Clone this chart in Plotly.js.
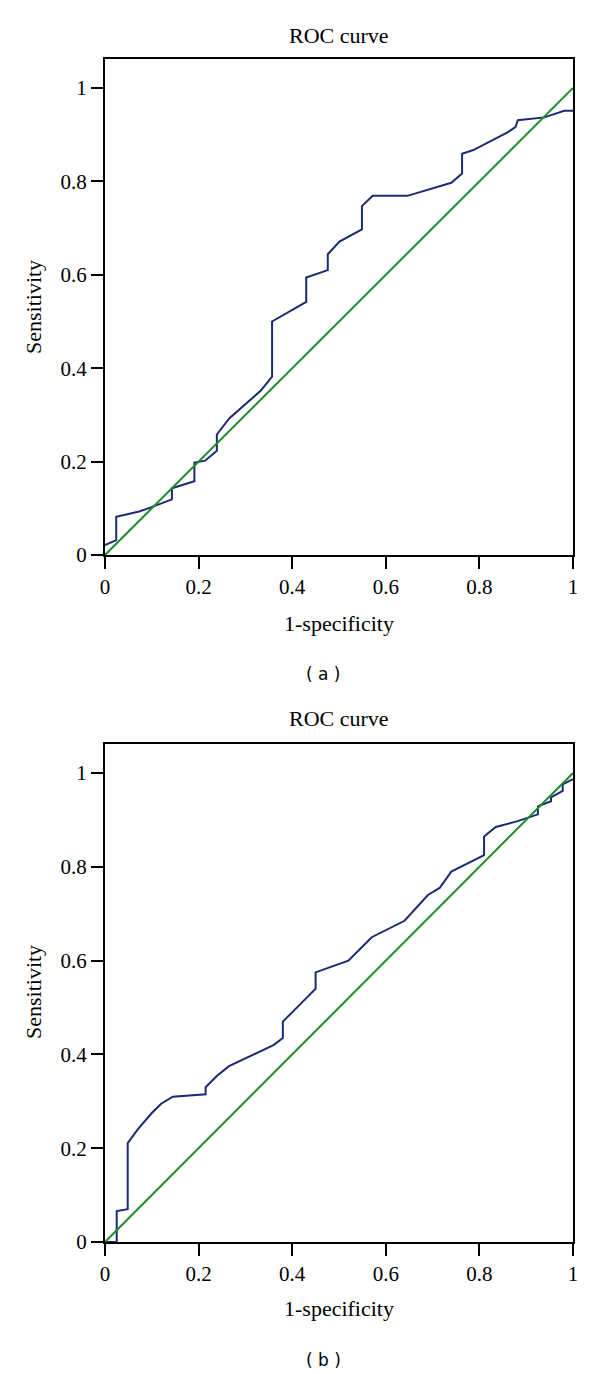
<!DOCTYPE html>
<html>
<head>
<meta charset="utf-8">
<script src="https://cdn.plot.ly/plotly-3.0.1.min.js"></script>
<style>html,body{margin:0;padding:0;background:#fff;}#chart{width:600px;height:1374px;}</style>
</head>
<body>
<div id="chart"></div>
<script>
// ROC curve (a)
var aX = [0, 0.024, 0.024, 0.073, 0.101, 0.143, 0.143, 0.191, 0.191, 0.214, 0.239, 0.239, 0.266, 0.333, 0.357, 0.357, 0.430, 0.430, 0.476, 0.476, 0.501, 0.549, 0.549, 0.572, 0.646, 0.740, 0.763, 0.763, 0.787, 0.860, 0.877, 0.882, 0.939, 0.981, 1.0];
var aY = [0.021, 0.032, 0.082, 0.093, 0.103, 0.119, 0.143, 0.158, 0.198, 0.202, 0.223, 0.258, 0.293, 0.352, 0.382, 0.500, 0.542, 0.594, 0.610, 0.644, 0.671, 0.697, 0.747, 0.769, 0.769, 0.797, 0.817, 0.859, 0.867, 0.905, 0.916, 0.931, 0.937, 0.951, 0.951];
// ROC curve (b)
var bX = [0, 0.025, 0.025, 0.0485, 0.0485, 0.07, 0.10, 0.12, 0.145, 0.215, 0.215, 0.24, 0.265, 0.36, 0.38, 0.38, 0.42, 0.45, 0.45, 0.52, 0.545, 0.57, 0.64, 0.69, 0.715, 0.74, 0.81, 0.81, 0.835, 0.88, 0.925, 0.925, 0.953, 0.953, 0.978, 0.978, 1.0];
var bY = [0, 0, 0.066, 0.070, 0.211, 0.240, 0.275, 0.295, 0.310, 0.315, 0.330, 0.355, 0.375, 0.420, 0.435, 0.470, 0.510, 0.540, 0.575, 0.600, 0.625, 0.650, 0.685, 0.740, 0.755, 0.790, 0.825, 0.865, 0.885, 0.897, 0.912, 0.929, 0.940, 0.948, 0.962, 0.976, 0.987];
// reference diagonal
var refX = [0, 1];
var refY = [0, 1];

var tickVals = [0, 0.2, 0.4, 0.6, 0.8, 1];
var tickText = ['0', '0.2', '0.4', '0.6', '0.8', '1'];

var titleText = 'ROC curve';
var xTitle = '1-specificity';
var yTitle = 'Sensitivity';
var captions = ['( a )', '( b )'];

var blue = '#1b2a72';
var green = '#1f8a2a';
var serif = 'Liberation Serif, Times New Roman, serif';

var traces = [
  {x: aX, y: aY, mode: 'lines', line: {color: blue, width: 2}, xaxis: 'x', yaxis: 'y', hoverinfo: 'skip'},
  {x: refX, y: refY, mode: 'lines', line: {color: green, width: 2}, xaxis: 'x', yaxis: 'y', hoverinfo: 'skip'},
  {x: bX, y: bY, mode: 'lines', line: {color: blue, width: 2}, xaxis: 'x2', yaxis: 'y2', hoverinfo: 'skip'},
  {x: refX, y: refY, mode: 'lines', line: {color: green, width: 2}, xaxis: 'x2', yaxis: 'y2', hoverinfo: 'skip'}
];

function axisBase(extra) {
  var o = {
    range: [0, 1],
    tickvals: tickVals,
    ticktext: tickText,
    ticks: 'outside',
    ticklen: 12,
    tickwidth: 2,
    tickcolor: '#000',
    showline: true,
    linewidth: 2,
    linecolor: '#000',
    mirror: true,
    showgrid: false,
    zeroline: false,
    fixedrange: true,
    tickfont: {family: serif, size: 21, color: '#000'}
  };
  for (var k in extra) o[k] = extra[k];
  return o;
}

var T = 59, B = 132, H = 1374;
function py(p) { return (H - B - p) / (H - T - B); }

var annotations = [];
var offsets = [0, 685];
var titleY = [36, 718];
for (var i = 0; i < 2; i++) {
  var d = offsets[i];
  annotations.push({text: titleText, xref: 'paper', yref: 'paper', x: 0.5, y: py(titleY[i]), xanchor: 'center', yanchor: 'middle', showarrow: false, font: {family: serif, size: 22, color: '#000'}});
  annotations.push({text: xTitle, xref: 'paper', yref: 'paper', x: 0.5, y: py(623 + d), xanchor: 'center', yanchor: 'middle', showarrow: false, font: {family: serif, size: 22, color: '#000'}});
  annotations.push({text: yTitle, xref: 'paper', yref: 'paper', x: (33 - 105) / 468, y: py(307 + d), xanchor: 'center', yanchor: 'middle', textangle: -90, showarrow: false, font: {family: serif, size: 22, color: '#000'}});
  annotations.push({text: captions[i], xref: 'paper', yref: 'paper', x: (323 - 105) / 468, y: py(674.5 + d), xanchor: 'center', yanchor: 'middle', showarrow: false, font: {family: 'DejaVu Sans, sans-serif', size: 17, color: '#000'}});
}

var layout = {
  width: 600,
  height: 1374,
  margin: {l: 105, r: 27, t: T, b: B},
  paper_bgcolor: '#fff',
  plot_bgcolor: '#fff',
  showlegend: false,
  xaxis: axisBase({anchor: 'y', domain: [0, 1]}),
  yaxis: axisBase({anchor: 'x', domain: [py(555), 1], range: [0, 1.062]}),
  xaxis2: axisBase({anchor: 'y2', domain: [0, 1]}),
  yaxis2: axisBase({anchor: 'x2', domain: [0, py(744)], range: [0, 1.062]}),
  annotations: annotations
};

Plotly.newPlot('chart', traces, layout, {staticPlot: true, displayModeBar: false});
</script>
</body>
</html>
